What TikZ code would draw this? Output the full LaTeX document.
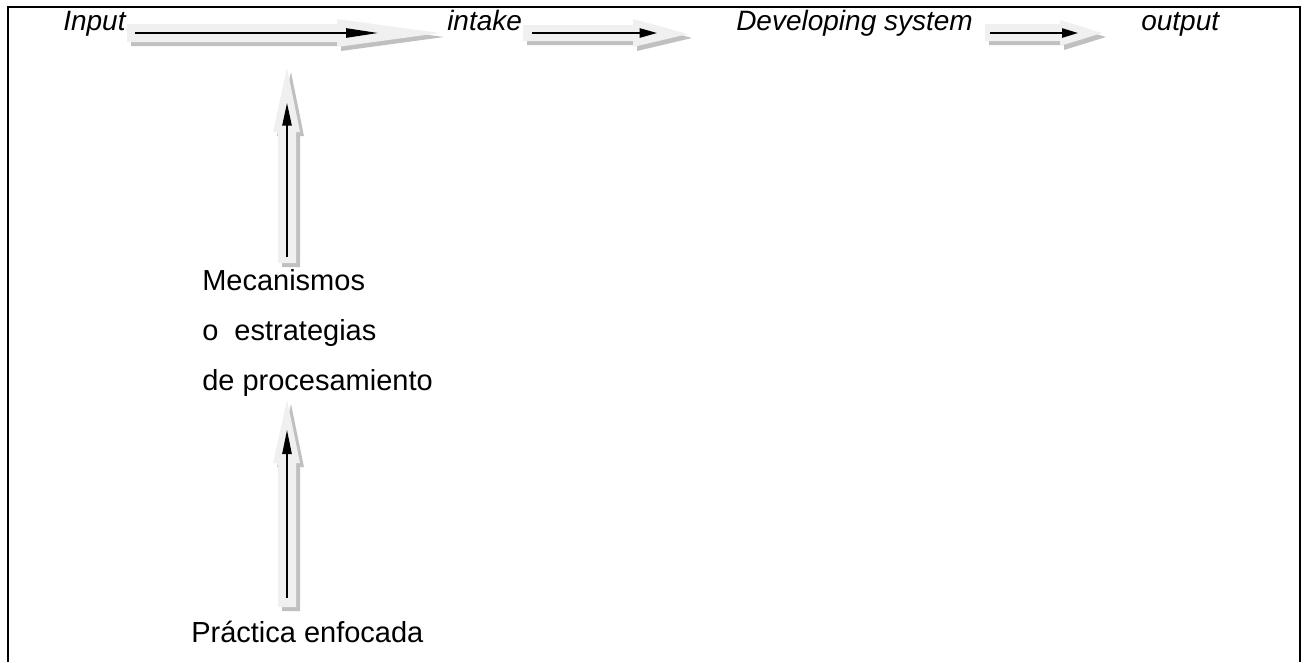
\documentclass[tikz,border=0pt]{standalone}
\usepackage{fontspec}
\setmainfont{Liberation Sans}
\usetikzlibrary{arrows.meta}
\definecolor{blockfill}{RGB}{240,240,240}
\definecolor{blockshade}{RGB}{192,192,192}
\tikzset{
  blockarrow/.style={fill=blockfill, draw=none},
  blockshadow/.style={fill=blockshade, draw=none, shift={(4,4)}},
  thinarrow/.style={line width=1.1pt, -{Triangle[length=#1, width=7pt]}},
  label/.style={inner sep=0.75pt, font=\fontsize{21.75}{37.5}\selectfont},
  steplabel/.style={inner sep=0.75pt, font=\fontsize{21}{25}\selectfont\itshape}
}
\begin{document}
\begin{tikzpicture}[x=0.75pt,y=0.75pt,yscale=-1,xscale=1]
\useasboundingbox (0,0) rectangle (1306,662);

%Shape: Frame
\draw [line width=1.9pt]  (8,662) -- (8,7) -- (1300,7) -- (1300,662) ;

%Shape: Right Arrow [Input]
\fill [blockshadow]  (127,24) -- (337,24) -- (337,19) -- (440,33) -- (337,47) -- (337,42) -- (127,42) -- cycle ;
\fill [blockarrow]  (127,24) -- (337,24) -- (337,19) -- (440,33) -- (337,47) -- (337,42) -- (127,42) -- cycle ;
%Shape: Right Arrow [intake]
\fill [blockshadow]  (523,25) -- (633,25) -- (633,19) -- (688,34) -- (633,47) -- (633,41) -- (523,41) -- cycle ;
\fill [blockarrow]  (523,25) -- (633,25) -- (633,19) -- (688,34) -- (633,47) -- (633,41) -- (523,41) -- cycle ;
%Shape: Right Arrow [Developing system]
\fill [blockshadow]  (985,24) -- (1060,24) -- (1060,20) -- (1102,33) -- (1060,46) -- (1060,41) -- (985,41) -- cycle ;
\fill [blockarrow]  (985,24) -- (1060,24) -- (1060,20) -- (1102,33) -- (1060,46) -- (1060,41) -- (985,41) -- cycle ;
%Shape: Up Arrow [Mecanismos]
\fill [blockshadow]  (278,263) -- (278,132) -- (273,132) -- (287,68) -- (300,132) -- (296,132) -- (296,263) -- cycle ;
\fill [blockarrow]  (278,263) -- (278,132) -- (273,132) -- (287,68) -- (300,132) -- (296,132) -- (296,263) -- cycle ;
%Shape: Up Arrow [Practica]
\fill [blockshadow]  (278,607) -- (278,463) -- (273,463) -- (287,400) -- (300,463) -- (296,463) -- (296,607) -- cycle ;
\fill [blockarrow]  (278,607) -- (278,463) -- (273,463) -- (287,400) -- (300,463) -- (296,463) -- (296,607) -- cycle ;

%Coordinates of the thin arrows
\coordinate (inA) at (135,33) ;
\coordinate (inB) at (378,33) ;
\coordinate (inkA) at (532,33) ;
\coordinate (inkB) at (657,33) ;
\coordinate (devA) at (990,33) ;
\coordinate (devB) at (1078,33) ;
\coordinate (mecA) at (287,257) ;
\coordinate (mecB) at (287,103) ;
\coordinate (praA) at (287,598) ;
\coordinate (praB) at (287,430) ;

%Straight Lines
\draw [thinarrow=24pt]  (inA) -- (inB) ;
\draw [thinarrow=13pt]  (inkA) -- (inkB) ;
\draw [thinarrow=12pt]  (devA) -- (devB) ;
\draw [thinarrow=17pt]  (mecA) -- (mecB) ;
\draw [thinarrow=18pt]  (praA) -- (praB) ;

% Text Node
\draw (62,30) node [anchor=base west] [steplabel] (input) {Input};
% Text Node
\draw (446,30) node [anchor=base west] [steplabel] (intake) {intake};
% Text Node
\draw (735,30) node [anchor=base west] [steplabel] (devsys) {Developing system};
% Text Node
\draw (1140,30) node [anchor=base west] [steplabel] (output) {output};
% Text Node
\draw (201,390) node [anchor=base west] [label] [align=left] (mech) {Mecanismos\\o\ \ estrategias\\de procesamiento};
% Text Node
\draw (190,642) node [anchor=base west] [label] (practica) {Práctica enfocada};

\end{tikzpicture}
\end{document}
